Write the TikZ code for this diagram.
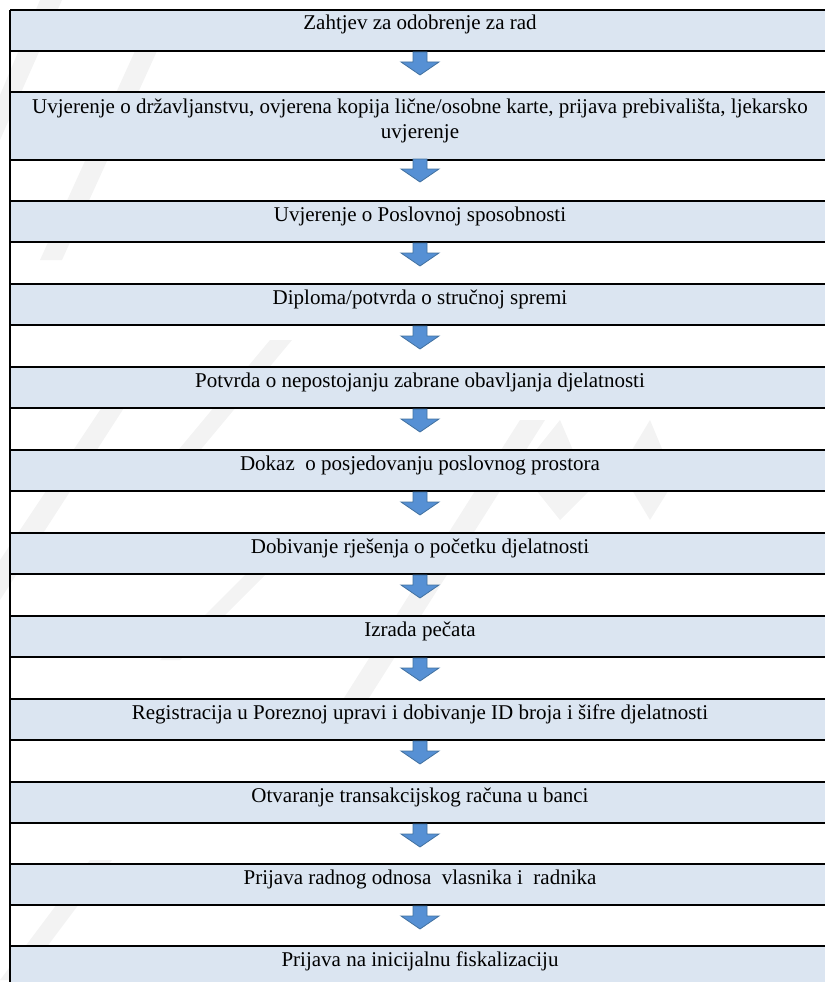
\documentclass[tikz,border=0pt]{standalone}
\usepackage{fontspec}
\setmainfont{Liberation Serif}
\usetikzlibrary{positioning}
\definecolor{rowblue}{RGB}{219,229,241}
\definecolor{arrowblue}{RGB}{86,144,212}
\definecolor{arrowline}{RGB}{66,113,160}
\definecolor{markgray}{RGB}{243,243,243}

\tikzset{
  rowfill/.style={fill=rowblue},
  rowline/.style={line width=1.2pt},
  rowtext/.style={anchor=base, inner sep=0pt, align=center, font=\fontsize{21}{25}\selectfont},
  downarrow/.pic={
    \draw[arrowline, fill=arrowblue, line width=0.8pt]
      (-7,0) -- (7,0) -- (7,10) -- (19,10) -- (0,23) -- (-19,10) -- (-7,10) -- cycle;
  }
}

\begin{document}
\begin{tikzpicture}[x=1pt, y=-1pt]
  \useasboundingbox (0,0) rectangle (825,982);
  % faint watermark bands
  \fill[markgray] (0,95) -- (40,0) -- (62,0) -- (0,140) -- cycle;
  \fill[markgray] (40,260) -- (140,40) -- (162,40) -- (62,260) -- cycle;
  \fill[markgray] (170,460) -- (270,340) -- (292,340) -- (192,460) -- cycle;
  \fill[markgray] (330,720) -- (520,420) -- (545,420) -- (355,720) -- cycle;
  \fill[markgray] (0,560) -- (120,380) -- (142,380) -- (0,600) -- cycle;
  \fill[markgray] (160,660) -- (260,560) -- (280,560) -- (180,660) -- cycle;
  \fill[markgray] (0,980) -- (90,860) -- (112,860) -- (22,980) -- cycle;
  \fill[markgray] (520,470) -- (560,420) -- (590,490) -- (560,520) -- cycle;
  \fill[markgray] (620,470) -- (650,420) -- (675,480) -- (650,520) -- cycle;
  % blue rows
  \foreach \top/\hgt in {10/41, 92/68, 201/41, 284/41, 367/41, 450/41, 533/41,
                         616/41, 699/41, 782/41, 864/41, 946/36}
    \fill[rowfill] (10,\top) rectangle (825,\top+\hgt);
  % rules
  \foreach \y in {10, 51, 92, 160, 201, 242, 284, 325, 367, 408, 450, 491,
                  533, 574, 616, 657, 699, 740, 782, 823, 864, 905, 946}
    \draw[rowline] (10,\y) -- (825,\y);
  \draw[rowline] (10,10) -- (10,982);
  % arrows
  \foreach \y in {52, 159, 243, 326, 409, 492, 575, 658, 741, 824, 906}
    \pic at (420,\y) {downarrow};
  % steps
  \node[rowtext] (s1) at (420,30) {Zahtjev za odobrenje za rad};
  \node[rowtext] (s2) at (420,138) {Uvjerenje o državljanstvu, ovjerena kopija lične/osobne karte, prijava prebivališta, ljekarsko\\uvjerenje};
  \node[rowtext] (s3) at (420,221) {Uvjerenje o Poslovnoj sposobnosti};
  \node[rowtext] (s4) at (420,304) {Diploma/potvrda o stručnoj spremi};
  \node[rowtext] (s5) at (420,387) {Potvrda o nepostojanju zabrane obavljanja djelatnosti};
  \node[rowtext] (s6) at (420,470) {Dokaz~ o posjedovanju poslovnog prostora};
  \node[rowtext] (s7) at (420,553) {Dobivanje rješenja o početku djelatnosti};
  \node[rowtext] (s8) at (420,636) {Izrada pečata};
  \node[rowtext] (s9) at (420,719) {Registracija u Poreznoj upravi i dobivanje ID broja i šifre djelatnosti};
  \node[rowtext] (s10) at (420,802) {Otvaranje transakcijskog računa u banci};
  \node[rowtext] (s11) at (420,884) {Prijava radnog odnosa~ vlasnika i~ radnika};
  \node[rowtext] (s12) at (420,966) {Prijava na inicijalnu fiskalizaciju};
\end{tikzpicture}
\end{document}
